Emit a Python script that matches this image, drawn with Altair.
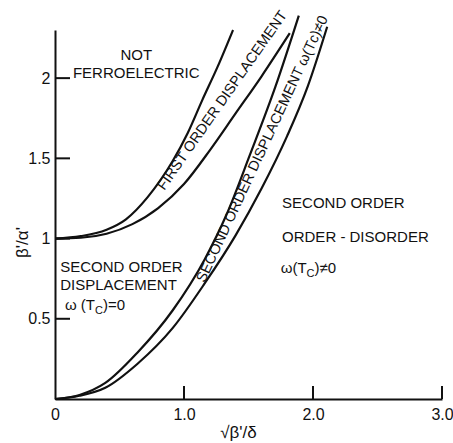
import altair as alt
import pandas as pd

FONT = "Liberation Sans"
INK = "#111111"

# Curve A: upper boundary of first-order displacement region
xA = [0, 0.2, 0.4, 0.55, 0.72, 0.91, 1.03, 1.14, 1.26, 1.38]
yA = [1.0, 1.015, 1.055, 1.12, 1.26, 1.48, 1.66, 1.86, 2.07, 2.30]
# Curve B: lower boundary of first-order displacement region
xB = [0, 0.2, 0.4, 0.6, 0.8, 1.0, 1.2, 1.4, 1.6, 1.82]
yB = [1.0, 1.005, 1.03, 1.09, 1.19, 1.34, 1.55, 1.78, 2.01, 2.28]
# Curve C: upper-left boundary of second-order displacement band
xC = [0, 0.19, 0.39, 0.64, 0.91, 1.16, 1.33, 1.51, 1.71, 1.89]
yC = [0, 0.025, 0.10, 0.29, 0.55, 0.87, 1.15, 1.52, 1.95, 2.39]
# Curve D: lower-right boundary of second-order displacement band
xD = [0, 0.19, 0.39, 0.64, 0.91, 1.16, 1.40, 1.60, 1.80, 1.96, 2.11]
yD = [0, 0.02, 0.07, 0.22, 0.44, 0.72, 1.02, 1.31, 1.64, 1.95, 2.32]

xTicks = [0, 1, 2, 3]
xInnerTicks = [1, 2, 3]
yTicks = [0.5, 1, 1.5, 2]

rows = []
for name, xs, ys in [("A", xA, yA), ("B", xB, yB), ("C", xC, yC), ("D", xD, yD)]:
    for i, (x, y) in enumerate(zip(xs, ys)):
        rows.append({"curve": name, "x": x, "y": y, "order": i})
df = pd.DataFrame(rows)

W, H = 387, 369
xscale = alt.Scale(domain=[0, 3], nice=False, zero=False)
yscale = alt.Scale(domain=[0, 2.3], nice=False, zero=False)

xaxis = alt.Axis(
    values=xTicks,
    labelExpr="datum.value == 0 ? '0' : format(datum.value, '.1f')",
    ticks=False, grid=False, domainColor=INK, domainWidth=2,
    labelFont=FONT, labelFontSize=16, labelColor=INK, labelPadding=7,
    labelFlush=False, labelOverlap=False,
    title="√β'/δ", titleFont=FONT, titleFontSize=17, titleFontWeight="normal",
    titleColor=INK, titleX=183, titleY=33, titleBaseline="middle", titleAlign="center",
)
yaxis = alt.Axis(
    values=yTicks,
    labelExpr="'' + datum.value",
    ticks=False, grid=False, domainColor=INK, domainWidth=2,
    labelFont=FONT, labelFontSize=16, labelColor=INK, labelPadding=5,
    labelFlush=False, labelOverlap=False,
    title="β'/α'", titleFont=FONT, titleFontSize=17, titleFontWeight="normal",
    titleColor=INK, titleAngle=270, titleX=-33, titleY=212,
    titleBaseline="middle", titleAlign="center",
)

def X(field="x"):
    return alt.X(f"{field}:Q", scale=xscale, axis=xaxis)

def Y(field="y"):
    return alt.Y(f"{field}:Q", scale=yscale, axis=yaxis)

lines = alt.Chart(df).mark_line(color=INK, strokeWidth=2.2, interpolate="monotone").encode(
    x=X(), y=Y(), detail="curve:N", order="order:Q",
)

ytick_layer = alt.Chart(pd.DataFrame({"y": yTicks})).mark_rule(color=INK, strokeWidth=2).encode(
    y=Y(), x=alt.value(0), x2=alt.value(15),
)
xtick_layer = alt.Chart(pd.DataFrame({"x": xInnerTicks})).mark_rule(color=INK, strokeWidth=2).encode(
    x=X(), y=alt.value(H), y2=alt.value(H - 13),
)

# region labels (horizontal); y values are text baselines
lab = pd.DataFrame({
    "x": [0.63, 0.63, 0.04, 0.04, 1.76, 1.76],
    "y": [2.11, 2.0, 0.79, 0.68, 1.19, 0.98],
    "text": ["NOT", "FERROELECTRIC", "SECOND ORDER", "DISPLACEMENT",
             "SECOND ORDER", "ORDER - DISORDER"],
    "align": ["center", "center", "left", "left", "left", "left"],
})

def text_layer(d, align, baseline="alphabetic", size=15, angle=0, dx=0, dy=0):
    kw = dict(font=FONT, fontSize=size, color=INK, align=align, baseline=baseline, dx=dx, dy=dy)
    if angle:
        kw["angle"] = angle
    return alt.Chart(d).mark_text(**kw).encode(x=X(), y=Y(), text="text:N")

centered = text_layer(lab[lab["align"] == "center"], "center")
lefted = text_layer(lab[lab["align"] == "left"], "left")

# omega labels with subscript C
om_main = pd.DataFrame({"x": [0.31, 1.95], "y": [0.555, 0.785], "text": ["ω (T", "ω(T"]})
om_sub = pd.DataFrame({"x": [0.31, 1.95], "y": [0.555, 0.785], "text": ["C", "C"]})
om_tail = pd.DataFrame({"x": [0.31, 1.95], "y": [0.555, 0.785], "text": [")=0", ")≠0"]})
om1 = text_layer(om_main, "right")
om2 = text_layer(om_sub, "left", size=11, dy=4)
om3 = text_layer(om_tail, "left", dx=8)

# rotated band labels
rot1 = text_layer(pd.DataFrame({"x": [1.30], "y": [1.86], "text": ["FIRST ORDER DISPLACEMENT"]}),
                  "center", baseline="middle", size=14.5, angle=305)
rot2 = text_layer(pd.DataFrame({"x": [1.61], "y": [1.557],
                                "text": ["SECOND ORDER DISPLACEMENT ω(Tᴄ)≠0"]}),
                  "center", baseline="middle", size=14.5, angle=295)

chart = alt.layer(
    lines, ytick_layer, xtick_layer, centered, lefted, om1, om2, om3, rot1, rot2
).properties(
    width=W, height=H,
    autosize=alt.AutoSizeParams(type="none"),
    padding={"left": 55, "top": 30, "right": 11, "bottom": 44},
    background="white",
).configure_view(stroke=None)

chart.save("out.html", embed_options={"renderer": "svg", "actions": False})
